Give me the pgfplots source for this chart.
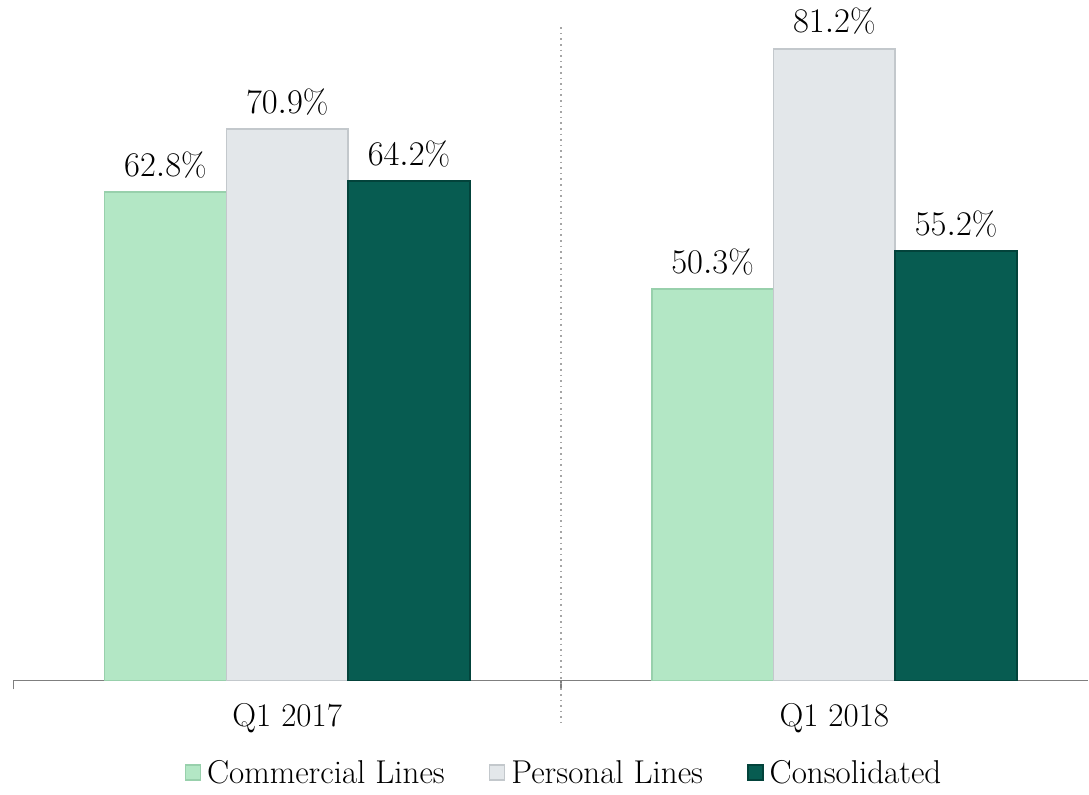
\documentclass[border=0pt]{standalone}
\usepackage{pgfplots}
\pgfplotsset{compat=1.18}
\definecolor{comm}{HTML}{B3E7C5}
\definecolor{commE}{HTML}{98D0AC}
\definecolor{pers}{HTML}{E3E7EA}
\definecolor{persE}{HTML}{C3C8CC}
\definecolor{cons}{HTML}{075C51}
\definecolor{consE}{HTML}{03433B}
\definecolor{axgray}{HTML}{7F7F7F}
\begin{document}
\begin{tikzpicture}
\begin{axis}[
  scale only axis,
  width=537pt, height=340pt,
  xmin=-0.5, xmax=1.464,
  ymin=0, ymax=87.5,
  ybar=0pt, bar width=60.85pt,
  axis x line*=bottom,
  axis y line=none,
  x axis line style={axgray, line width=0.8pt},
  xtick={0,1},
  xticklabels={Q1 2017, Q1 2018},
  major tick length=0pt,
  extra x ticks={-0.5,0.5},
  extra x tick labels={},
  extra x tick style={major tick length=4.5pt, tick style={axgray, line width=0.8pt}, tick pos=left, tick align=outside},
  xticklabel style={font=\fontsize{16.5}{19}\selectfont, yshift=-8pt},
  nodes near coords={\pgfmathprintnumber[fixed,precision=1,fixed zerofill]{\pgfplotspointmeta}\%},
  every node near coord/.append style={font=\fontsize{16.5}{19}\selectfont, anchor=base, yshift=8pt, black},
  clip=false,
  legend style={at={(rel axis cs:0.513,-0.137)}, anchor=center, draw=none, fill=none,
    legend columns=-1, font=\fontsize{16.5}{19}\selectfont,
    /tikz/every odd column/.append style={column sep=1pt},
    /tikz/every even column/.append style={column sep=20pt}},
  legend image code/.code={\draw[#1] (0pt,-3.2pt) rectangle (7.5pt,4.3pt);},
]
\addplot[fill=comm, draw=commE, line width=0.8pt] coordinates {(0,62.8) (1,50.3)};
\addplot[fill=pers, draw=persE, line width=0.8pt] coordinates {(0,70.9) (1,81.2)};
\addplot[fill=cons, draw=consE, line width=0.8pt] coordinates {(0,64.2) (1,55.2)};
\legend{Commercial Lines, Personal Lines, Consolidated}
\draw[axgray!70, line width=0.8pt, dotted] (axis cs:0.5,84) -- (axis cs:0.5,-5.5);
\path (axis cs:-0.525,-14.16) rectangle (axis cs:1.464,87.5);
\end{axis}
\end{tikzpicture}
\end{document}
